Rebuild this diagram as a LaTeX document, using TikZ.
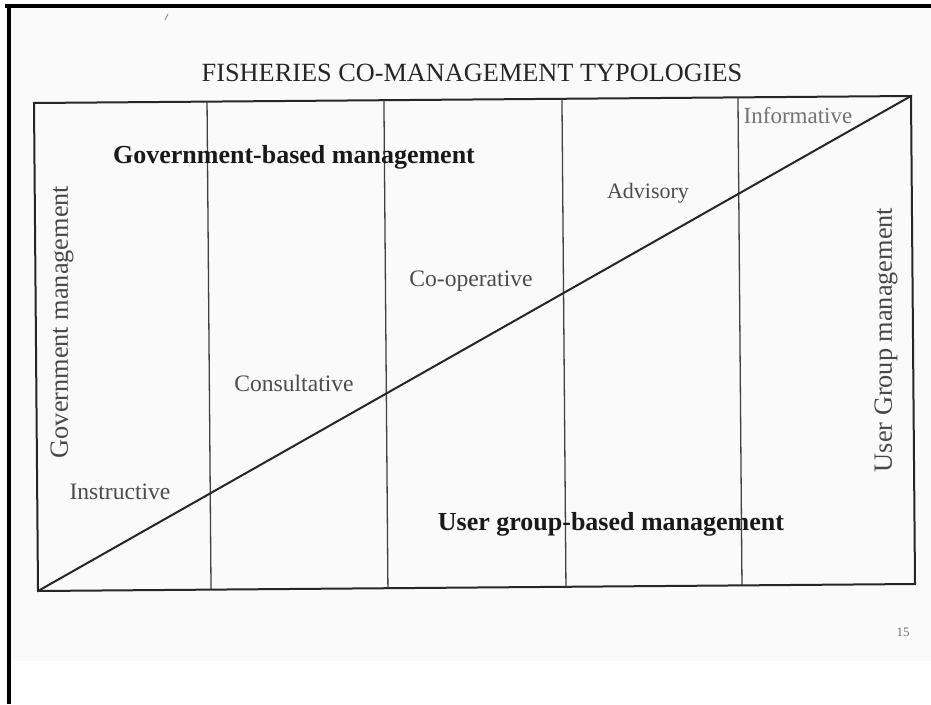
\documentclass[tikz,border=0pt]{standalone}
\usepackage{fontspec}
\setmainfont{Liberation Serif}
\usetikzlibrary{calc}
\begin{document}
\begin{tikzpicture}[x=1pt,y=-1pt,
  frame/.style={line width=2pt, draw=black!85},
  divider/.style={line width=1.3pt, draw=black!75},
  diag/.style={line width=2pt, draw=black!85},
  typelabel/.style={font=\fontsize{23.6}{25}\selectfont, text=black!70, inner sep=0pt},
  zonelabel/.style={font=\fontsize{26}{28}\selectfont\bfseries, text=black!90, inner sep=0pt},
  sidelabel/.style={font=\fontsize{26.3}{28}\selectfont, text=black!72, inner sep=0pt, rotate=90},
]
\useasboundingbox (0,0) rectangle (931,704);
\fill[white] (0,0) rectangle (931,704);
\fill[black!2] (10,7) rectangle (931,661);
\fill[black] (5,4) rectangle (931,8);
\fill[black] (7,4) rectangle (10.5,704);
\draw[black!50, line width=0.8pt] (165,20) -- (168,14);

\coordinate (TL) at (34,103);
\coordinate (TR) at (911,96);
\coordinate (BR) at (915,584);
\coordinate (BL) at (38,591);
\draw[frame] (TL) -- (TR) -- (BR) -- (BL) -- cycle;
\foreach \t in {0.1973,0.399,0.602,0.8027}
  \draw[divider] ($(TL)!\t!(TR)$) -- ($(BL)!\t!(BR)$);
\draw[diag] (BL) -- (TR);

\node[font=\fontsize{26.3}{28}\selectfont, text=black!85, inner sep=0pt] (title) at (472,73) {FISHERIES CO-MANAGEMENT TYPOLOGIES};
\node[zonelabel] (gov) at (294,157) {Government-based management};
\node[zonelabel] (user) at (611,524) {User group-based management};
\node[sidelabel] (govside) at (62,322) {Government management};
\node[sidelabel] (userside) at (886,340) {User Group management};
\node[typelabel] (instr) at (120,492) {Instructive};
\node[typelabel] (consult) at (294,383) {Consultative};
\node[typelabel] (coop) at (471,281) {Co-operative};
\node[typelabel, font=\fontsize{22}{24}\selectfont] (adv) at (648,193) {Advisory};
\node[typelabel, font=\fontsize{23}{25}\selectfont, text=black!55] (inform) at (798,116) {Informative};
\node[font=\fontsize{13}{14}\selectfont, text=black!55, inner sep=0pt] (page) at (903,632) {15};
\end{tikzpicture}
\end{document}
